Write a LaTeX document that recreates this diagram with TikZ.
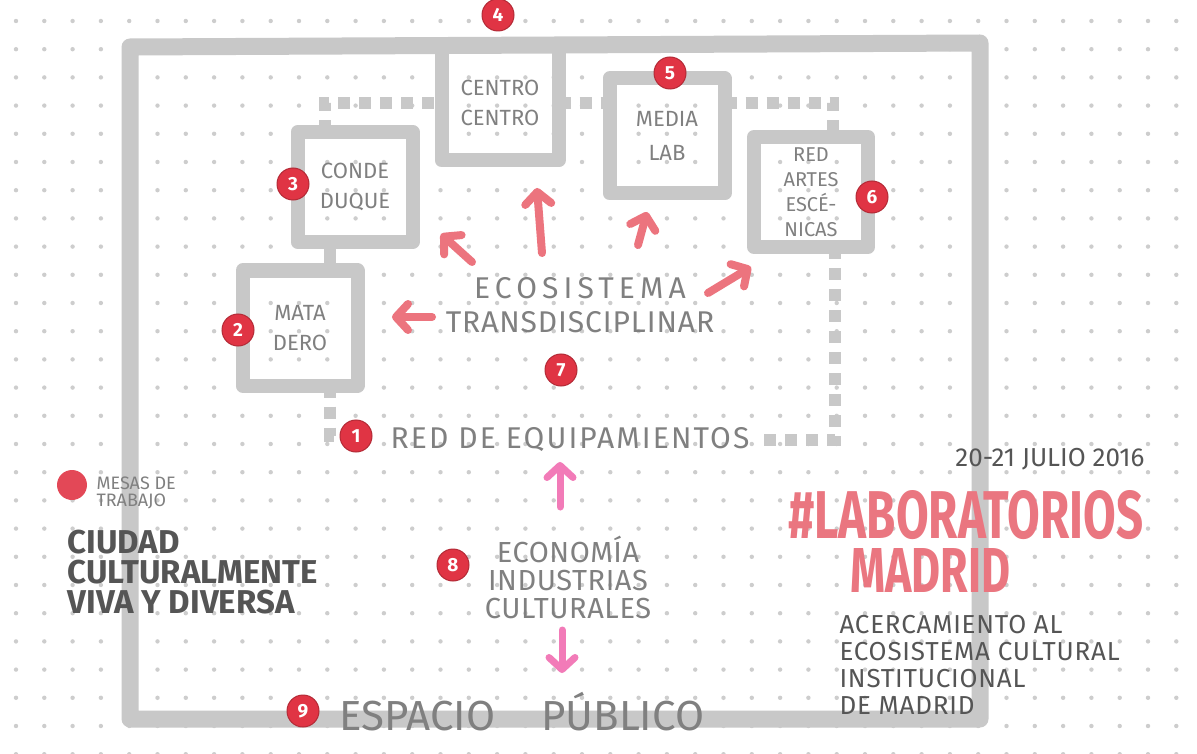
\documentclass[tikz,border=0pt]{standalone}
\usepackage{fontspec}
\setmainfont{Fira Sans}
\usepackage{xcolor}
\usepackage{tikz}
\usetikzlibrary{arrows.meta}
\definecolor{dotgray}{HTML}{CDCDCD}
\definecolor{linegray}{HTML}{C8C8C8}
\definecolor{pengray}{HTML}{808080}
\definecolor{inkgray}{HTML}{555555}
\definecolor{badgered}{HTML}{E03444}
\definecolor{arrowred}{HTML}{EC747E}
\definecolor{arrowpink}{HTML}{F27BB8}
\definecolor{titlered}{HTML}{EA7680}

\begin{document}
\begin{tikzpicture}[x=1pt,y=-1pt,
            frame/.style={draw=linegray,line width=17,line cap=round,line join=round},
            sitebox/.style={draw=linegray,line width=14,line join=round,outer sep=0,inner sep=0,
                text=pengray,align=center,font=\fontsize{22}{30}\selectfont},
            link/.style={draw=linegray,line width=12,dash pattern=on 12 off 9},
            joint/.style={draw=linegray,line width=12},
            badge/.style={circle,fill=badgered,draw=badgered!80!black,line width=1,text=white,
                inner sep=0,minimum size=32,font=\bfseries\fontsize{19}{19}\selectfont},
            pen/.style={text=pengray,align=center},
            redarrow/.style={draw=arrowred,line width=8,line cap=round,
                -{Straight Barb[length=12pt,width=26pt,round]}},
            pinkarrow/.style={draw=arrowpink,line width=7,line cap=round,
                -{Straight Barb[length=12pt,width=26pt,round]}}]
            \useasboundingbox (0,0) rectangle (1197,754);
            \fill[white] (0,0) rectangle (1197,754);
            \foreach \i in {0,...,41}{
                \foreach \j in {0,...,26}{
                    \fill[dotgray] (16+28.3*\i,21+28.2*\j) circle[radius=2.2pt];
                }
            }

            \draw[frame] (130,719) -- (130,47) -- (980,43) -- (980,719) -- cycle;

            \node[sitebox,minimum width=117,minimum height=115] at (500,103) (centro) {CENTRO\\CENTRO};
            \node[sitebox,minimum width=115,minimum height=115,font=\fontsize{22}{34}\selectfont] at (667,136) (medialab) {MEDIA\\LAB};
            \node[sitebox,minimum width=114,minimum height=110,font=\fontsize{20}{25}\selectfont] at (811,192) (artes) {RED\\ARTES\\ESCÉ-\\NICAS};
            \node[sitebox,minimum width=115,minimum height=110] at (355,187) (conde) {CONDE\\DUQUE};
            \node[sitebox,minimum width=115,minimum height=115] at (300,328) (matadero) {MATA\\DERO};

            \node[pen,font=\fontsize{30}{34}\selectfont] at (580,305) (ecosys) {{\addfontfeatures{LetterSpace=17}ECOSISTEMA}\\{\addfontfeatures{LetterSpace=3}TRANSDISCIPLINAR}};
            \node[pen,font=\fontsize{30}{30}\selectfont\addfontfeatures{LetterSpace=7}] at (570,440) (redeq) {RED DE EQUIPAMIENTOS};
            \node[pen,font=\fontsize{29}{28}\selectfont\addfontfeatures{LetterSpace=2}] at (568,577) (econ) {ECONOMÍA\\INDUSTRIAS\\CULTURALES};
            \node[pen,anchor=base,font=\fontsize{42}{42}\selectfont] at (522,730) (espacio) {ESPACIO\hspace{46pt}PÚBLICO};

            \node[badge] at (356,436) (n1) {1};
            \node[badge] at (238,330) (n2) {2};
            \node[badge] at (293,184) (n3) {3};
            \node[badge] at (498,15) (n4) {4};
            \node[badge] at (670,73) (n5) {5};
            \node[badge] at (872,197) (n6) {6};
            \node[badge] at (561,370) (n7) {7};
            \node[badge] at (453,565) (n8) {8};
            \node[badge] at (303,711) (n9) {9};

            \draw[link] ([xshift=-30]conde.north) |- (centro.west);
            \draw[link] (centro.east) -- (centro.east -| medialab.west);
            \draw[link] (centro.east -| medialab.east) -| ([xshift=22]artes.north);
            \draw[link] ([xshift=24]artes.south) |- ([xshift=8]redeq.east);
            \draw[joint] ([xshift=-25]conde.south) -- ([xshift=30]matadero.north);
            \draw[link] ([xshift=30]matadero.south) |- (n1.west);

            \draw[redarrow] ([shift={(-108,-43)}]ecosys.center) -- ([shift={(86,47)}]conde.center);
            \draw[redarrow] ([shift={(-38,-52)}]ecosys.center) -- ([shift={(37,85)}]centro.center);
            \draw[redarrow] ([shift={(58,-60)}]ecosys.center) -- ([shift={(-20,76)}]medialab.center);
            \draw[redarrow] ([shift={(128,-12)}]ecosys.center) -- ([shift={(-60,75)}]artes.center);
            \draw[redarrow] ([shift={(-148,12)}]ecosys.center) -- ([shift={(92,-11)}]matadero.center);

            \draw[pinkarrow] ([shift={(-8,-70)}]econ.center) -- ([shift={(-10,22)}]redeq.center);
            \draw[pinkarrow] ([shift={(-6,53)}]econ.center) -- ([shift={(40,-57)}]espacio.base);

            \node[circle,fill=badgered!90!white,minimum size=30,inner sep=0] at (72,485) (mesadot) {};
            \node[pen,anchor=west,align=left,font=\fontsize{18}{17}\selectfont] at (93,493) (mesas) {MESAS DE\\TRABAJO};
            \node[anchor=north west,align=left,text=inkgray,font=\bfseries\fontsize{33}{30}\selectfont] at (64,527) (ciudad) {CIUDAD\\CULTURALMENTE\\VIVA Y DIVERSA};

            \node[text=inkgray,font=\fontsize{26}{26}\selectfont] at (1050,459) (fecha) {20-21 JULIO 2016};
            \node[anchor=west,text=titlered,font=\bfseries,inner sep=0] at (788,514) (hashtag) {\raisebox{0pt}[\height][0pt]{\resizebox{355pt}{48pt}{\#LABORATORIOS}}};
            \node[anchor=west,text=titlered,font=\bfseries,inner sep=0] at (850,570) (madrid) {\resizebox{160pt}{44pt}{MADRID}};
            \node[anchor=north west,align=left,text=inkgray,font=\fontsize{26}{27}\selectfont\addfontfeatures{LetterSpace=3}] at (836,612) (acerca) {ACERCAMIENTO AL\\ECOSISTEMA CULTURAL\\INSTITUCIONAL\\DE MADRID};
\end{tikzpicture}
\end{document}
